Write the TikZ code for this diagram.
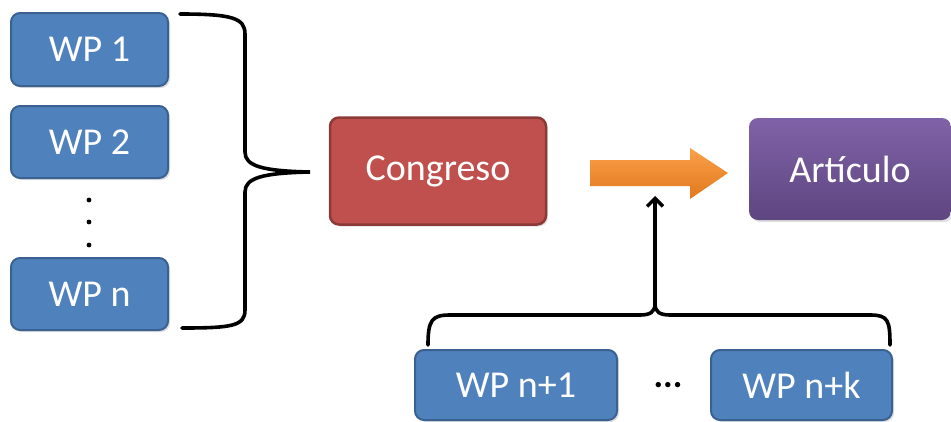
\documentclass[tikz,border=0pt]{standalone}
\usepackage{fontspec}
\setmainfont{Carlito}
\usetikzlibrary{arrows.meta,shadows}
\definecolor{wpblue}{HTML}{4F81BD}
\definecolor{wpborder}{HTML}{3A6291}
\definecolor{cred}{HTML}{C0504D}
\definecolor{credb}{HTML}{8C3A38}
\definecolor{ptop}{HTML}{8062A8}
\definecolor{pbot}{HTML}{5E4680}
\definecolor{otop}{HTML}{F9A04A}
\definecolor{obot}{HTML}{E2781C}
\begin{document}
\begin{tikzpicture}[x=1pt,y=-1pt,
  box/.style={rectangle, rounded corners=9pt, text=white, inner sep=0pt,
    font=\fontsize{38}{42}\selectfont,
    drop shadow={opacity=0.25, shadow xshift=2pt, shadow yshift=-2pt}},
  wp/.style={box, fill=wpblue, draw=wpborder, line width=2pt},
  brace/.style={line width=3.6pt, black, line cap=round}]
\useasboundingbox (0,0) rectangle (951,421);

\node[wp, minimum width=157pt, minimum height=73pt] (wp1) at (89.5,49.5) {WP 1};
\node[wp, minimum width=157pt, minimum height=72pt] (wp2) at (89.5,142) {WP 2};
\node[wp, minimum width=157pt, minimum height=72pt] (wpn) at (89.5,294) {WP n};
\foreach \yy in {200,222,245} \fill (89,\yy) circle (2.4pt);

\node[box, fill=cred, draw=credb, line width=2.5pt, minimum width=216pt, minimum height=107pt] (cong) at (438,171) {Congreso};
\node[box, top color=ptop, bottom color=pbot, draw=none, minimum width=202pt, minimum height=102pt] (art) at (850,169) {Artículo};

\node[wp, minimum width=202pt, minimum height=70pt] (wpn1) at (516,385) {WP n+1};
\node[wp, minimum width=181pt, minimum height=70pt] (wpnk) at (801.5,385) {WP n+k};
\node[font=\fontsize{36}{40}\selectfont\bfseries] (dots) at (668,385) {...};

% orange flow arrow
\shade[top color=otop, bottom color=obot]
  (590,160) -- (690,160) -- (690,148) -- (728,173) -- (690,199) -- (690,186) -- (590,186) -- cycle;
\coordinate (flowbot) at (655,196);

% left brace
\coordinate (ltip) at (310,172);
\draw[brace] (180,14) .. controls (232,14) and (245,18) .. (245,34) -- (245,152)
  .. controls (245,166) and (262,171) .. (ltip)
  .. controls (262,173) and (245,178) .. (245,192) -- (245,310)
  .. controls (245,326) and (232,328) .. (182,328);

% bottom brace
\coordinate (btip) at (655,304);
\draw[brace] (428,345) .. controls (428,320) and (432,315) .. (450,315) -- (640,315)
  .. controls (650,315) and (655,312) .. (btip)
  .. controls (655,312) and (660,315) .. (670,315) -- (870,315)
  .. controls (888,315) and (890,320) .. (890,345);
\draw[line width=3.4pt, -{Straight Barb[length=8pt,width=16pt]}] (btip) -- (flowbot);
\end{tikzpicture}
\end{document}
